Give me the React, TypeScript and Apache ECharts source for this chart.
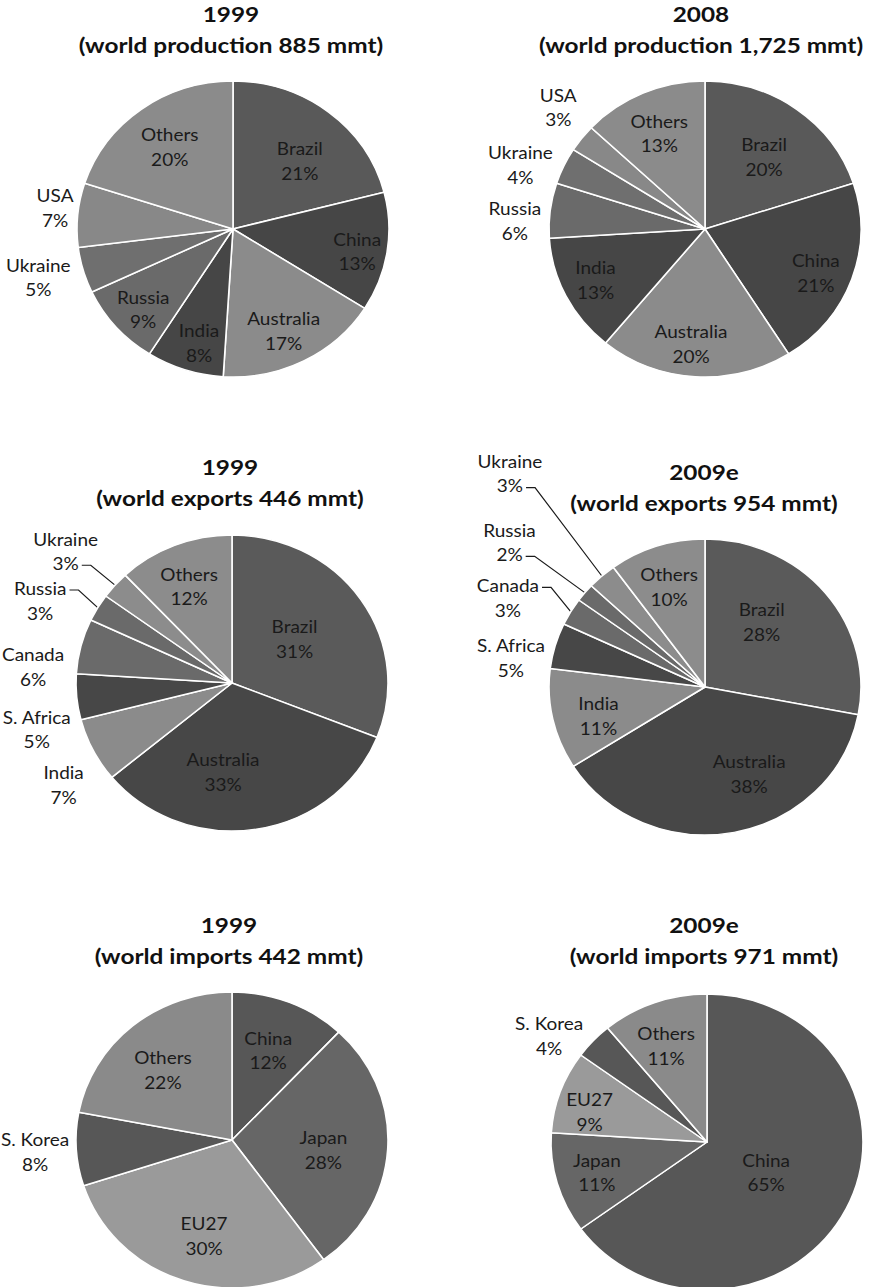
import React, { useEffect, useRef } from "react";
import * as echarts from "echarts";

// ---- data -------------------------------------------------------------
const productionNames = ["Brazil", "China", "Australia", "India", "Russia", "Ukraine", "USA", "Others"];
const production1999 = [21, 13, 17, 8, 9, 5, 7, 20];
const production2008 = [20, 21, 20, 13, 6, 4, 3, 13];

const exportNames = ["Brazil", "Australia", "India", "S. Africa", "Canada", "Russia", "Ukraine", "Others"];
const exports1999 = [31, 33, 7, 5, 6, 3, 3, 12];
const exports2009 = [28, 38, 11, 5, 3, 2, 3, 10];

const importNames = ["China", "Japan", "EU27", "S. Korea", "Others"];
const imports1999 = [12, 28, 30, 8, 22];
const imports2009 = [65, 11, 9, 4, 11];

const titleYears = ["1999", "2008", "1999", "2009e", "1999", "2009e"];
const titleSubs = [
  "(world production 885 mmt)",
  "(world production 1,725 mmt)",
  "(world exports 446 mmt)",
  "(world exports 954 mmt)",
  "(world imports 442 mmt)",
  "(world imports 971 mmt)",
];

// ---- styling ------------------------------------------------------------
const W = 872;
const H_PAGE = 1287;
const SY = 148 / 156; // pies are drawn slightly squashed vertically
const H = Math.round(H_PAGE / SY);
const R = 156;

const FONT = "Lato, 'Open Sans', sans-serif";
const LABEL_SIZE = 19;
const LABEL_LH = 26;
const TITLE_SIZE = 21;
const TITLE_LH = 32.7;
const TITLE_STRETCH = 1.16;

const productionColors = ["#595959", "#464646", "#8b8b8b", "#464646", "#6a6a6a", "#6f6f6f", "#888888", "#8b8b8b"];
const exportColors = ["#5a5a5a", "#474747", "#8b8b8b", "#474747", "#6a6a6a", "#6a6a6a", "#8c8c8c", "#8c8c8c"];
const importColors = ["#575757", "#666666", "#9a9a9a", "#575757", "#8a8a8a"];

// pie centres (page coordinates) and title anchors
const pieCx = [233, 705, 232, 705, 232, 707];
const pieCy = [229, 229, 683, 687, 1140, 1142];
const titleCx = [231, 701, 230, 704, 229, 704];
const titleLine1Y = [14, 14, 467, 472, 925, 925];

// label placement: distance from centre (fraction of radius) and angular nudge (deg)
const labelDist = [
  [0.63, 0.81, 0.76, 0.8, 0.79, 1.29, 1.15, 0.69],
  [0.62, 0.77, 0.78, 0.78, 1.22, 1.26, 1.25, 0.71],
  [0.5, 0.6, 1.28, 1.29, 1.28, 1.35, 1.39, 0.71],
  [0.57, 0.65, 0.71, 1.26, 1.4, 1.59, 1.91, 0.715],
  [0.65, 0.59, 0.67, 1.265, 0.65],
  [0.43, 0.735, 0.78, 1.24, 0.7],
];
const labelTurn = [
  [5, 1.6, 1.7, -2.2, -1.8, 1.6, 1.9, 0],
  [1.7, 2.9, 3, 1.1, -4.6, -5.1, 3.4, -1],
  [-2.5, 14.5, -5.5, -8.6, -9.5, -6.2, -1.5, -1.2],
  [-10.8, -15, -3.3, -7.1, -5.1, -1.6, 0.5, -0.8],
  [-0.7, 2.8, -2.5, 0.1, -3.3],
  [1.2, 0, -4.5, -7.9, -2.2],
];
// leader lines: which text line (0 = name, 1 = percent) the line leaves from
const leaderFrom: (number | null)[][] = [
  [null, null, null, null, null, null, null, null],
  [null, null, null, null, null, null, null, null],
  [null, null, null, null, null, 0, 1, null],
  [null, null, null, null, 0, 1, 1, null],
  [null, null, null, null, null],
  [null, null, null, null, null],
];

const pies = [
  { names: productionNames, values: production1999, colors: productionColors },
  { names: productionNames, values: production2008, colors: productionColors },
  { names: exportNames, values: exports1999, colors: exportColors },
  { names: exportNames, values: exports2009, colors: exportColors },
  { names: importNames, values: imports1999, colors: importColors },
  { names: importNames, values: imports2009, colors: importColors },
];

const RAD = Math.PI / 180;

let measureCtx: CanvasRenderingContext2D | null = null;
function textWidth(t: string): number {
  if (!measureCtx) measureCtx = document.createElement("canvas").getContext("2d");
  if (!measureCtx) return t.length * LABEL_SIZE * 0.5;
  measureCtx.font = `${LABEL_SIZE}px ${FONT}`;
  return measureCtx.measureText(t).width;
}

function midAngles(values: number[]): number[] {
  const total = values.reduce((a, b) => a + b, 0);
  let acc = 0;
  return values.map((v) => {
    const a = ((acc + v / 2) / total) * 360;
    acc += v;
    return a;
  });
}

function buildSeries(k: number) {
  const { names, values, colors } = pies[k];
  const cx = pieCx[k];
  const cy = pieCy[k] / SY;
  const mids = midAngles(values);
  return {
    type: "pie",
    center: [cx, cy],
    radius: R,
    startAngle: 90,
    clockwise: true,
    silent: true,
    avoidLabelOverlap: false,
    emphasis: { disabled: true },
    itemStyle: { borderColor: "#ffffff", borderWidth: 1.6 },
    label: {
      show: true,
      position: "inside",
      formatter: "{b}\n{c}%",
      fontFamily: FONT,
      fontSize: LABEL_SIZE,
      lineHeight: LABEL_LH,
      color: "#1a1a1a",
      textBorderWidth: 0,
      align: "center",
    },
    labelLine: { show: false, lineStyle: { color: "#1a1a1a", width: 1.2 } },
    data: names.map((n, i) => ({
      name: n,
      value: values[i],
      itemStyle: { color: colors[i] },
      label: { position: leaderFrom[k][i] != null ? "outside" : "inside" },
      labelLine: { show: leaderFrom[k][i] != null },
    })),
    labelLayout: (params: any) => {
      const i = params.dataIndex;
      const a = (mids[i] + labelTurn[k][i]) * RAD;
      const d = R * labelDist[k][i];
      const x = cx + d * Math.sin(a);
      const y = cy - d * Math.cos(a);
      const out: any = { x, y, align: "center", verticalAlign: "middle" };
      const from = leaderFrom[k][i];
      if (from != null) {
        const lineText = from === 0 ? names[i] : `${values[i]}%`;
        const ly = y + (from === 0 ? -LABEL_LH / 2 : LABEL_LH / 2) + 2;
        const sx = x + textWidth(lineText) / 2 + 3;
        const m = mids[i] * RAD;
        out.labelLinePoints = [
          [sx, ly],
          [sx + 9, ly],
          [cx + R * Math.sin(m), cy - R * Math.cos(m)],
        ];
      }
      return out;
    },
  };
}

function buildTitles() {
  return titleYears.map((yr, k) => ({
    type: "text",
    x: titleCx[k],
    y: titleLine1Y[k] / SY - TITLE_LH / 2,
    scaleX: TITLE_STRETCH,
    silent: true,
    style: {
      text: `${yr}\n${titleSubs[k]}`,
      align: "center",
      verticalAlign: "top",
      fontFamily: FONT,
      fontWeight: "bold",
      fontSize: TITLE_SIZE,
      lineHeight: TITLE_LH,
      fill: "#111111",
    },
  }));
}

export default function App() {
  const ref = useRef<HTMLDivElement>(null);

  useEffect(() => {
    if (!ref.current) return;
    const chart = echarts.init(ref.current, null, { renderer: "svg", width: W, height: H });
    chart.setOption({
      animation: false,
      backgroundColor: "#ffffff",
      graphic: buildTitles(),
      series: pies.map((_, k) => buildSeries(k)),
    });
    return () => chart.dispose();
  }, []);

  return (
    <div
      style={{
        position: "absolute",
        left: 0,
        top: 0,
        width: W,
        height: H_PAGE,
        overflow: "hidden",
        background: "#ffffff",
      }}
    >
      <div
        ref={ref}
        style={{ width: W, height: H, transform: `scaleY(${SY})`, transformOrigin: "0 0" }}
      />
    </div>
  );
}
